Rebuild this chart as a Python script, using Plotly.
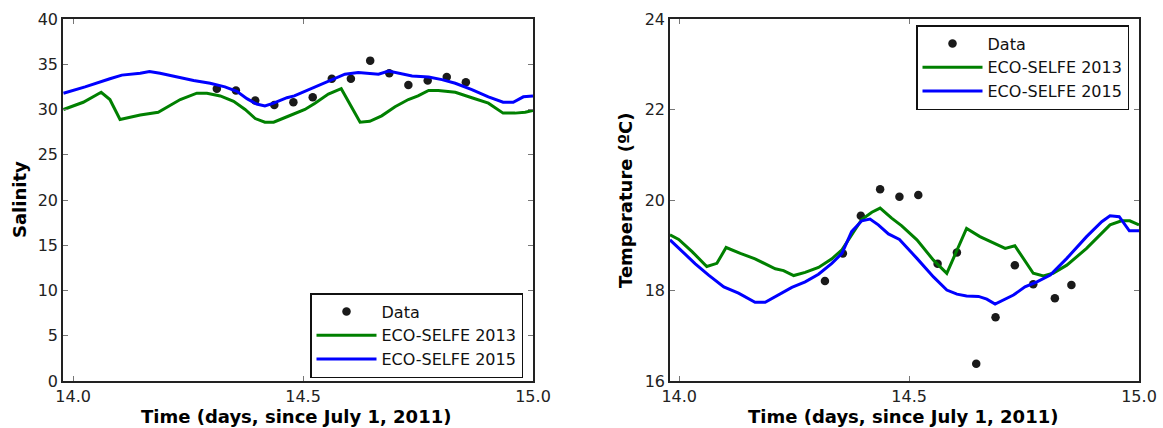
import plotly.graph_objects as go

# ---------------- Salinity panel ----------------
sal_data_t = [14.3125, 14.354, 14.396, 14.4375, 14.479, 14.521, 14.5625, 14.604,
              14.646, 14.6875, 14.729, 14.771, 14.8125, 14.854]
sal_data_v = [32.3, 32.1, 31.0, 30.5, 30.8, 31.35, 33.4, 33.4, 35.4, 34.0, 32.7, 33.2, 33.6, 33.0]

sal_2013_t = [13.979, 14.022, 14.061, 14.080, 14.102, 14.146, 14.185, 14.211, 14.233, 14.269,
              14.291, 14.320, 14.349, 14.374, 14.396, 14.417, 14.436, 14.465, 14.504, 14.526,
              14.555, 14.583, 14.624, 14.645, 14.671, 14.700, 14.729, 14.750, 14.773, 14.794,
              14.831, 14.867, 14.903, 14.935, 14.961, 14.983, 15.0]
sal_2013_v = [30.0, 30.8, 31.9, 31.1, 28.9, 29.4, 29.7, 30.5, 31.1, 31.8,
              31.8, 31.5, 30.9, 30.0, 29.0, 28.6, 28.6, 29.2, 30.0, 30.7,
              31.7, 32.3, 28.6, 28.7, 29.3, 30.3, 31.1, 31.5, 32.1, 32.1,
              31.9, 31.3, 30.7, 29.6, 29.6, 29.7, 29.9]

sal_2015_t = [13.979, 14.026, 14.080, 14.106, 14.146, 14.166, 14.189, 14.225, 14.262, 14.298,
              14.330, 14.356, 14.378, 14.399, 14.417, 14.436, 14.465, 14.481, 14.526, 14.562,
              14.591, 14.620, 14.664, 14.686, 14.708, 14.737, 14.773, 14.802, 14.831, 14.867,
              14.903, 14.935, 14.957, 14.979, 15.0]
sal_2015_v = [31.8, 32.5, 33.4, 33.8, 34.0, 34.2, 34.0, 33.6, 33.2, 32.9,
              32.5, 32.0, 31.2, 30.6, 30.4, 30.7, 31.3, 31.5, 32.5, 33.3,
              33.9, 34.1, 33.9, 34.25, 34.0, 33.7, 33.6, 33.3, 32.9, 32.2,
              31.4, 30.8, 30.8, 31.4, 31.5]

# ---------------- Temperature panel ----------------
tmp_data_t = [14.317, 14.356, 14.395, 14.437, 14.479, 14.520, 14.562, 14.604,
              14.646, 14.688, 14.730, 14.770, 14.817, 14.853]
tmp_data_v = [18.21, 18.82, 19.65, 20.24, 20.07, 20.11, 18.59, 18.84,
              16.38, 17.41, 18.56, 18.14, 17.83, 18.12]

tmp_2013_t = [13.980, 13.999, 14.028, 14.060, 14.082, 14.102, 14.133, 14.165, 14.209, 14.227,
              14.249, 14.274, 14.303, 14.332, 14.354, 14.375, 14.397, 14.419, 14.437, 14.462,
              14.484, 14.517, 14.553, 14.582, 14.625, 14.654, 14.684, 14.709, 14.730, 14.752,
              14.770, 14.792, 14.813, 14.843, 14.886, 14.937, 14.962, 14.980, 15.0]
tmp_2013_v = [19.23, 19.13, 18.86, 18.53, 18.60, 18.95, 18.82, 18.70, 18.48, 18.44,
              18.33, 18.40, 18.51, 18.70, 18.90, 19.23, 19.57, 19.73, 19.82, 19.60,
              19.43, 19.12, 18.67, 18.38, 19.37, 19.19, 19.04, 18.93, 18.99, 18.67,
              18.38, 18.32, 18.38, 18.56, 18.93, 19.45, 19.54, 19.54, 19.45]

tmp_2015_t = [13.980, 14.006, 14.035, 14.064, 14.097, 14.129, 14.165, 14.187, 14.216, 14.245,
              14.274, 14.303, 14.332, 14.354, 14.375, 14.397, 14.415, 14.433, 14.455, 14.479,
              14.517, 14.553, 14.582, 14.604, 14.625, 14.651, 14.669, 14.687, 14.727, 14.752,
              14.778, 14.807, 14.843, 14.886, 14.919, 14.937, 14.957, 14.979, 15.0]
tmp_2015_v = [19.12, 18.86, 18.59, 18.34, 18.08, 17.94, 17.74, 17.74, 17.90, 18.07,
              18.19, 18.36, 18.60, 18.82, 19.30, 19.54, 19.58, 19.45, 19.25, 19.13,
              18.71, 18.30, 18.01, 17.92, 17.88, 17.87, 17.81, 17.70, 17.90, 18.08,
              18.19, 18.34, 18.71, 19.19, 19.52, 19.65, 19.63, 19.32, 19.32]

x_ticks = [14.0, 14.5, 15.0]
x_ticklabels = ["14.0", "14.5", "15.0"]
sal_ticks = [0, 5, 10, 15, 20, 25, 30, 35, 40]
tmp_ticks = [16, 18, 20, 22, 24]

names = ["Data", "ECO-SELFE 2013", "ECO-SELFE 2015"]
GREEN = "#008000"
BLUE = "#0000ff"
DOT = "#1a1a1a"
FONT = "DejaVu Sans"

fig = go.Figure()

def add_panel(xa, ya, leg, dt, dv, t13, v13, t15, v15):
    fig.add_trace(go.Scatter(x=dt, y=dv, mode="markers", name=names[0],
                             marker=dict(color=DOT, size=8.5),
                             xaxis=xa, yaxis=ya, legend=leg))
    fig.add_trace(go.Scatter(x=t13, y=v13, mode="lines", name=names[1],
                             line=dict(color=GREEN, width=3),
                             xaxis=xa, yaxis=ya, legend=leg))
    fig.add_trace(go.Scatter(x=t15, y=v15, mode="lines", name=names[2],
                             line=dict(color=BLUE, width=3),
                             xaxis=xa, yaxis=ya, legend=leg))

add_panel("x", "y", "legend", sal_data_t, sal_data_v, sal_2013_t, sal_2013_v, sal_2015_t, sal_2015_v)
add_panel("x2", "y2", "legend2", tmp_data_t, tmp_data_v, tmp_2013_t, tmp_2013_v, tmp_2015_t, tmp_2015_v)

W, H = 1163, 428
ydom = [(H - 381) / H, (H - 19) / H]

axis_common = dict(showgrid=False, zeroline=False, showline=True, linecolor="#222",
                   linewidth=1.5, mirror="ticks", ticks="inside", ticklen=5,
                   tickcolor="#777", tickwidth=1, automargin=False,
                   tickfont=dict(family=FONT, size=16, color="#222"))

legend_common = dict(bgcolor="white", bordercolor="#111", borderwidth=1.5,
                     font=dict(family=FONT, size=16, color="#111"), itemwidth=60,
                     tracegroupgap=0)

fig.update_layout(
    width=W, height=H,
    margin=dict(l=0, r=0, t=0, b=0, pad=0, autoexpand=False),
    paper_bgcolor="white", plot_bgcolor="white",
    showlegend=True,
    xaxis=dict(domain=[63 / W, 533 / W], range=[13.978, 15.0], anchor="y",
               tickvals=x_ticks, ticktext=x_ticklabels, **axis_common),
    yaxis=dict(domain=ydom, range=[0, 40], anchor="x", tickvals=sal_ticks, **axis_common),
    xaxis2=dict(domain=[670 / W, 1139 / W], range=[13.98, 15.0], anchor="y2",
                tickvals=x_ticks, ticktext=x_ticklabels, **axis_common),
    yaxis2=dict(domain=ydom, range=[16, 24], anchor="x2", tickvals=tmp_ticks, **axis_common),
    legend=dict(x=523 / W, y=(H - 378) / H, xanchor="right", yanchor="bottom", **legend_common),
    legend2=dict(x=1129 / W, y=(H - 25) / H, xanchor="right", yanchor="top", **legend_common),
    annotations=[
        dict(text="<b>Time (days, since July 1, 2011)</b>", x=296 / W, y=(H - 416) / H,
             xref="paper", yref="paper", showarrow=False, xanchor="center", yanchor="middle",
             font=dict(family=FONT, size=18, color="black")),
        dict(text="<b>Time (days, since July 1, 2011)</b>", x=903 / W, y=(H - 416) / H,
             xref="paper", yref="paper", showarrow=False, xanchor="center", yanchor="middle",
             font=dict(family=FONT, size=18, color="black")),
        dict(text="<b>Salinity</b>", x=19 / W, y=(H - 200) / H, textangle=-90,
             xref="paper", yref="paper", showarrow=False, xanchor="center", yanchor="middle",
             font=dict(family=FONT, size=18, color="black")),
        dict(text="<b>Temperature (ºC)</b>", x=625 / W, y=(H - 200) / H, textangle=-90,
             xref="paper", yref="paper", showarrow=False, xanchor="center", yanchor="middle",
             font=dict(family=FONT, size=18, color="black")),
    ],
)

fig.write_html("out.html")
